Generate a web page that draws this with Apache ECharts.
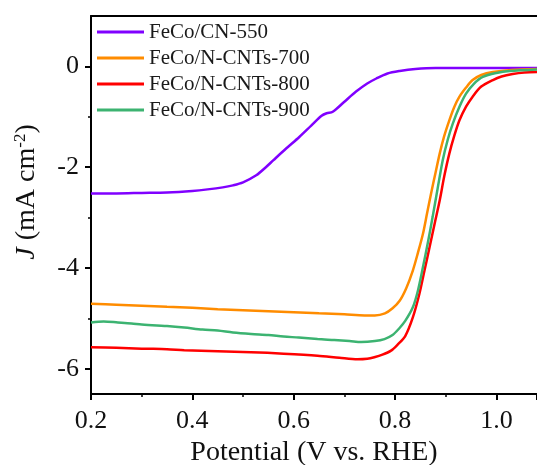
<!DOCTYPE html>
<html>
<head>
<meta charset="utf-8">
<script src="https://cdn.jsdelivr.net/npm/echarts@6/dist/echarts.min.js"></script>
<style>
  html, body { margin: 0; padding: 0; background: #fff; }
  #chart { width: 537px; height: 465px; }
</style>
</head>
<body>
<div id="chart"></div>
<script>
// LSV polarization curves (potential in V vs. RHE, current density in mA cm-2)
const seriesNames = ['FeCo/CN-550', 'FeCo/N-CNTs-700', 'FeCo/N-CNTs-800', 'FeCo/N-CNTs-900'];
const seriesColors = ['#8000ff', '#ff8c00', '#ff0000', '#3cb371'];

const potCN550 = [0.20, 0.25, 0.30, 0.35, 0.40, 0.43, 0.46, 0.48, 0.50, 0.526, 0.545, 0.56, 0.585, 0.611, 0.635, 0.655, 0.665, 0.677, 0.70, 0.723, 0.745, 0.763, 0.785, 0.809, 0.84, 0.88, 0.95, 1.00, 1.08];
const jCN550   = [-2.52, -2.52, -2.51, -2.50, -2.47, -2.44, -2.40, -2.36, -2.30, -2.16, -2.00, -1.86, -1.63, -1.40, -1.17, -0.98, -0.93, -0.90, -0.70, -0.50, -0.34, -0.24, -0.14, -0.09, -0.05, -0.03, -0.03, -0.03, -0.03];

const pot700 = [0.20, 0.25, 0.30, 0.35, 0.40, 0.45, 0.50, 0.55, 0.60, 0.65, 0.70, 0.74, 0.76, 0.78, 0.795, 0.809, 0.822, 0.835, 0.845, 0.855, 0.863, 0.871, 0.88, 0.888, 0.897, 0.907, 0.917, 0.927, 0.94, 0.953, 0.97, 0.993, 1.03, 1.08];
const j700   = [-4.71, -4.73, -4.75, -4.77, -4.79, -4.82, -4.84, -4.86, -4.88, -4.90, -4.92, -4.94, -4.94, -4.90, -4.80, -4.65, -4.40, -4.05, -3.70, -3.32, -2.92, -2.52, -2.10, -1.73, -1.38, -1.07, -0.80, -0.60, -0.42, -0.27, -0.17, -0.11, -0.07, -0.05];

const pot800 = [0.20, 0.25, 0.30, 0.35, 0.384, 0.45, 0.516, 0.58, 0.647, 0.69, 0.726, 0.745, 0.759, 0.775, 0.792, 0.805, 0.82, 0.835, 0.848, 0.858, 0.868, 0.878, 0.888, 0.897, 0.907, 0.917, 0.927, 0.94, 0.953, 0.97, 0.993, 1.01, 1.032, 1.055, 1.08];
const j800   = [-5.57, -5.58, -5.60, -5.61, -5.63, -5.65, -5.67, -5.70, -5.74, -5.78, -5.81, -5.80, -5.77, -5.72, -5.64, -5.52, -5.35, -4.98, -4.51, -4.05, -3.59, -3.12, -2.66, -2.18, -1.73, -1.37, -1.07, -0.80, -0.60, -0.40, -0.27, -0.20, -0.15, -0.12, -0.11];

const pot900 = [0.20, 0.225, 0.253, 0.28, 0.30, 0.33, 0.35, 0.384, 0.42, 0.45, 0.48, 0.516, 0.55, 0.58, 0.61, 0.647, 0.68, 0.71, 0.733, 0.76, 0.779, 0.795, 0.808, 0.82, 0.835, 0.845, 0.855, 0.865, 0.874, 0.884, 0.894, 0.904, 0.914, 0.927, 0.94, 0.955, 0.973, 1.00, 1.026, 1.08];
const j900   = [-5.08, -5.06, -5.08, -5.10, -5.12, -5.14, -5.15, -5.18, -5.22, -5.24, -5.28, -5.31, -5.33, -5.36, -5.38, -5.41, -5.43, -5.45, -5.47, -5.45, -5.41, -5.33, -5.20, -5.05, -4.78, -4.45, -3.98, -3.48, -2.99, -2.42, -1.86, -1.45, -1.13, -0.80, -0.54, -0.35, -0.21, -0.13, -0.09, -0.06];

const xTicks = [0.2, 0.4, 0.6, 0.8, 1.0];
const yMajorTicks = [-6, -4, -2, 0];
const yMinorTicks = [-5, -3, -1];

const curves = [
  [potCN550, jCN550],
  [pot700, j700],
  [pot800, j800],
  [pot900, j900]
];

const FONT = '"Liberation Serif", "Times New Roman", serif';

const chart = echarts.init(document.getElementById('chart'), null, { renderer: 'canvas' });

const zip = (xs, ys) => xs.map((x, i) => [x, ys[i]]);

chart.setOption({
  animation: false,
  backgroundColor: '#fff',
  grid: { left: 91, top: 16, right: 0, bottom: 71, containLabel: false, outerBoundsMode: 'none' },
  legend: {
    orient: 'vertical',
    left: 97,
    top: 19,
    padding: 0,
    icon: 'rect',
    itemWidth: 47,
    itemHeight: 3,
    itemGap: 0,
    itemTextGap: 3,
    textStyle: { fontFamily: FONT, fontSize: 21, lineHeight: 26, color: '#1a1a1a' },
    data: seriesNames
  },
  xAxis: [
    {
      type: 'value',
      min: 0.2,
      max: 1.08,
      interval: 0.2,
      name: 'Potential (V vs. RHE)',
      nameLocation: 'middle',
      nameGap: 38,
      nameTextStyle: { fontFamily: FONT, fontSize: 28, color: '#111' },
      axisLine: { show: true, onZero: false, lineStyle: { color: '#000', width: 2 } },
      axisTick: { show: true, inside: false, length: 6, lineStyle: { color: '#000', width: 2 } },
      minorTick: { show: true, splitNumber: 2, length: 3, lineStyle: { color: '#000', width: 1.5 } },
      axisLabel: {
        margin: 14, fontFamily: FONT, fontSize: 26, color: '#111',
        customValues: xTicks,
        formatter: v => v.toFixed(1)
      },
      splitLine: { show: false }
    },
    {
      type: 'value',
      position: 'top',
      min: 0.2,
      max: 1.08,
      axisLine: { show: true, onZero: false, lineStyle: { color: '#000', width: 2 } },
      axisTick: { show: false },
      axisLabel: { show: false },
      splitLine: { show: false }
    }
  ],
  yAxis: [
    {
      type: 'value',
      min: -6.5,
      max: 1,
      axisLine: { show: true, onZero: false, lineStyle: { color: '#000', width: 2 } },
      axisTick: { show: true, inside: false, length: 6, customValues: yMajorTicks, lineStyle: { color: '#000', width: 2 } },
      axisLabel: {
        margin: 12, fontFamily: FONT, fontSize: 26, color: '#111',
        customValues: yMajorTicks,
        formatter: v => String(v)
      },
      splitLine: { show: false }
    },
    {
      type: 'value',
      position: 'left',
      min: -6.5,
      max: 1,
      axisLine: { show: false },
      axisTick: { show: true, inside: false, length: 3, customValues: yMinorTicks, lineStyle: { color: '#000', width: 1.5 } },
      axisLabel: { show: false },
      splitLine: { show: false }
    }
  ],
  graphic: [
    {
      type: 'text',
      x: 27,
      y: 192,
      rotation: Math.PI / 2,
      style: {
        text: '{i|J} (mA cm{sup|-2})',
        fontFamily: FONT,
        fontSize: 28,
        fill: '#111',
        align: 'center',
        verticalAlign: 'middle',
        rich: {
          i: { fontFamily: FONT, fontSize: 28, fontStyle: 'italic', fill: '#111' },
          sup: { fontFamily: FONT, fontSize: 17, fill: '#111', verticalAlign: 'top', padding: [0, 0, 12, 0] }
        }
      }
    }
  ],
  series: curves.map((c, i) => ({
    name: seriesNames[i],
    type: 'line',
    xAxisIndex: 0,
    yAxisIndex: 0,
    data: zip(c[0], c[1]),
    showSymbol: false,
    symbol: 'none',
    smooth: 0.3,
    color: seriesColors[i],
    lineStyle: { color: seriesColors[i], width: 2.5 },
    z: 2 + i
  }))
});
</script>
</body>
</html>
